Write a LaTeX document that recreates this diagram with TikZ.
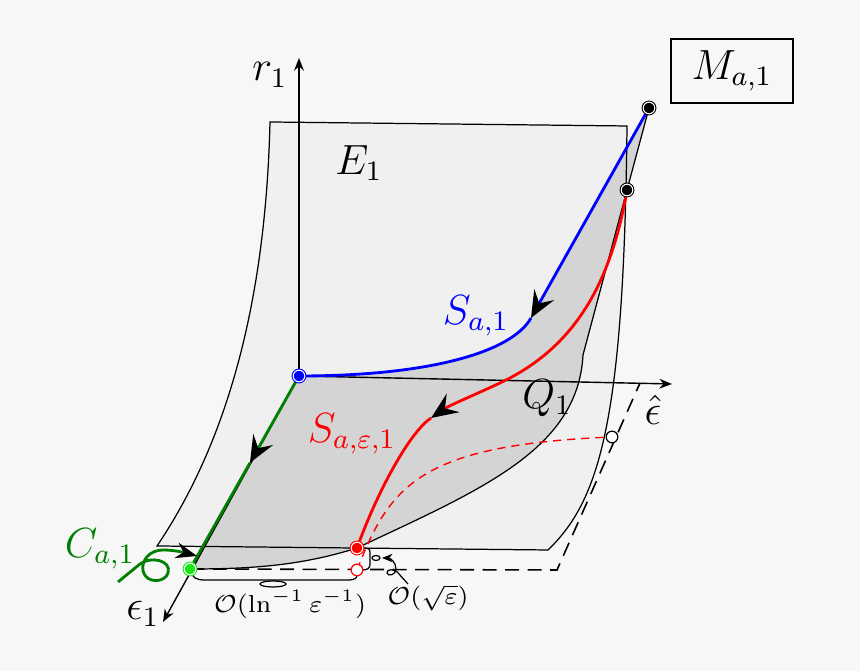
\documentclass[tikz,border=0pt]{standalone}
\usepackage{amsmath}
\usepackage{tikz}
\usetikzlibrary{calc}
\usetikzlibrary{arrows.meta}
\definecolor{bgcol}{gray}{0.969}
\definecolor{sheetcol}{gray}{0.94}
\definecolor{slowcol}{gray}{0.83}
\definecolor{critgreen}{rgb}{0,0.5,0}
\definecolor{dotgreen}{rgb}{0.1,0.9,0.1}
\tikzset{>=latex}

\begin{document}
\begin{tikzpicture}[x=0.01cm,y=-0.01cm,line width=0.35pt,font=\fontsize{11.5}{14}\selectfont]
  \tikzstyle{axisline}=[line width=0.4pt,-{Stealth[length=3.6pt,width=2.8pt]}]
  \tikzstyle{flow}=[line width=0.8pt]
  \tikzstyle{flowtip}=[flow,-{Stealth[black,length=7.6pt,width=6.4pt,inset=2.8pt]}]
  \tikzstyle{dotnode}=[circle,inner sep=0pt,minimum size=3.3pt,line width=0.3pt,double distance=0.3pt,double=white]
  \tikzstyle{hole}=[circle,inner sep=0pt,minimum size=3.3pt,fill=white,draw]
  \tikzstyle{smalllabel}=[font=\fontsize{7}{9}\selectfont]

  \fill[bgcol] (0,0) rectangle (860,671);
  \useasboundingbox (0,0) rectangle (860,671);

  % points
  \coordinate (O) at (299,376);
  \coordinate (Mtop) at (649,108);
  \coordinate (Mred) at (627,190);
  \coordinate (Rdot) at (357,548);
  \coordinate (Rhole) at (357,570);
  \coordinate (Gdot) at (190,569);
  \coordinate (Qhole) at (612,437);
  \coordinate (Dcorner) at (557,570);
  \coordinate (Dend) at (640,383);
  \coordinate (Rtip) at (299,58);
  \coordinate (Etip) at (672,384);
  \coordinate (Ltip) at (163,622);
  \coordinate (Bkink) at (531,318);
  \coordinate (Rkink) at (431,418);
  \coordinate (Gkink) at ($(O)!0.45!(Gdot)$);

  % sheet E_1 and the shaded part
  \fill[sheetcol] (270,122) -- (627,126) .. controls (624,420) and (600,500) .. (548,550)
    -- (157,546) .. controls (215,460) and (265,330) .. cycle;
  \fill[slowcol] (O) .. controls (430,376) and (512,352) .. (Bkink) -- (Mtop) -- (Mred) -- (583,355)
    .. controls (578,450) and (480,490) .. (Rdot) .. controls (300,566) and (250,569) .. (Gdot) -- cycle;
  \draw (270,122) -- (627,126) .. controls (624,420) and (600,500) .. (548,550)
    -- (157,546) .. controls (215,460) and (265,330) .. cycle;
  \draw (Mtop) -- (Mred) -- (583,355) .. controls (578,450) and (480,490) .. (Rdot)
    .. controls (300,566) and (250,569) .. (Gdot);
  \draw[dash pattern=on 4pt off 2.4pt,line width=0.45pt] (Gdot) -- (Dcorner) -- (Dend);

  % axes
  \draw[axisline] (O) -- (Rtip);
  \draw[axisline] (O) -- (Etip);
  \draw[axisline] (O) -- (Ltip);

  % orbits
  \draw[red,dash pattern=on 2.3pt off 1.7pt,line width=0.4pt] (Rhole) .. controls (390,485) and (420,445) .. (Qhole);
  \draw[blue,flowtip] (Mtop) -- (Bkink);
  \draw[blue,flow] (Bkink) .. controls (512,352) and (430,376) .. (O);
  \draw[red,flowtip] (Mred) .. controls (610,290) and (570,350) .. (500,383)
    .. controls (470,397) and (450,405) .. (Rkink);
  \draw[red,flow] (Rkink) .. controls (410,432) and (378,490) .. (Rdot);
  \draw[critgreen,flowtip] (O) -- (Gkink);
  \draw[critgreen,flow] (Gkink) -- (Gdot);

  % braces
  \draw (Gdot) .. controls (192,578) and (196,580) .. (205,580) -- (348,580)
    .. controls (355,580) and (357,578) .. (357,575);
  \draw (273,584) ellipse (13 and 3);
  \draw (363,548) .. controls (369,548) and (370,549) .. (370,553) -- (370,564)
    .. controls (370,568) and (368,570) .. (362,570);
  \draw (376,558) ellipse (4 and 2.5);
  \draw[-{Stealth[length=3pt,width=2.4pt]}] (408,584) -- (399,574) .. controls (395,568) and (386,569) .. (387,573)
    .. controls (388,577) and (396,575) .. (396,569) .. controls (396,562) and (390,558) .. (382,558);
  \draw[critgreen,flow,-{Stealth[black,length=6pt,width=4.5pt,inset=2pt]}] (118,582) -- (140,564)
    .. controls (150,556) and (172,560) .. (168,573) .. controls (165,583) and (146,584) .. (143,571)
    .. controls (141,560) and (150,550) .. (163,550) .. controls (175,550) and (186,553) .. (197,556);

  % labels
  \node (r1) at (270,75) {$r_1$};
  \node (epshat) at (653,410) {$\hat{\epsilon}$};
  \node (eps1) at (143,614) {$\epsilon_1$};
  \node (E1) at (359,163) {$E_1$};
  \node (Q1) at (547,398) {$Q_1$};
  \node[blue] (Sa) at (476,316) {$S_{a,1}$};
  \node[red] (Sae) at (352,434) {$S_{a,\varepsilon,1}$};
  \node[critgreen] (Ca) at (100,549) {$C_{a,1}$};
  \node[draw,minimum width=1.22cm,minimum height=0.59cm] (Ma) at (732,71) {$M_{a,1}$};
  \node[smalllabel] (lnlabel) at (290,604) {$\mathcal{O}(\ln^{-1}\varepsilon^{-1})$};
  \node[smalllabel] (sqlabel) at (428,598) {$\mathcal{O}(\sqrt{\varepsilon})$};

  % special points
  \node[dotnode,fill=blue,draw=blue] (pO) at (O) {};
  \node[dotnode,fill=black,draw=black] (pMtop) at (Mtop) {};
  \node[dotnode,fill=black,draw=black] (pMred) at (Mred) {};
  \node[dotnode,fill=red,draw=red] (pRdot) at (Rdot) {};
  \node[dotnode,fill=dotgreen,draw=dotgreen] (pGdot) at (Gdot) {};
  \node[hole,draw=red] (pRhole) at (Rhole) {};
  \node[hole] (pQhole) at (Qhole) {};
\end{tikzpicture}
\end{document}
